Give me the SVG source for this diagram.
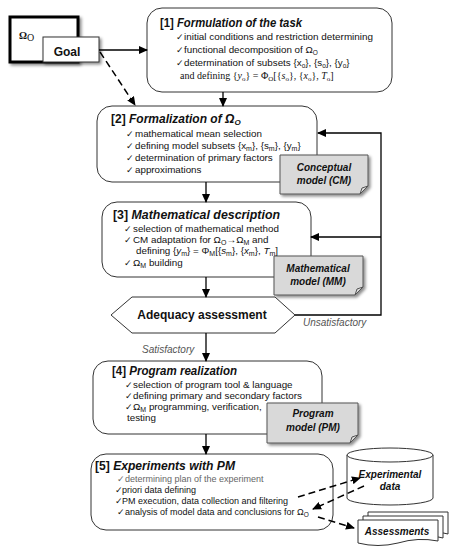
<svg xmlns="http://www.w3.org/2000/svg" width="455" height="550" viewBox="0 0 455 550">
<defs>
<marker id="ah" markerUnits="userSpaceOnUse" markerWidth="9" markerHeight="8" refX="8" refY="4" orient="auto">
<path d="M0,0 L9,4 L0,8 Z" fill="#000"/>
</marker>
<filter id="sh" x="-20%" y="-20%" width="150%" height="150%">
<feDropShadow dx="2" dy="2" stdDeviation="1.5" flood-color="#000" flood-opacity="0.45"/>
</filter>
</defs>
<style>
.box{fill:#fff;stroke:#333;stroke-width:1}
.doc{fill:#d9d9d9;stroke:#555;stroke-width:1}
.t{font-family:"Liberation Sans",Arial,sans-serif;font-size:9.8px;fill:#111}
.t5{font-family:"Liberation Sans",Arial,sans-serif;font-size:9px;fill:#111}
.ti{font-family:"Liberation Sans",Arial,sans-serif;font-size:12px;font-weight:bold;fill:#111}
.bi{font-family:"Liberation Sans",Arial,sans-serif;font-size:10px;font-weight:bold;font-style:italic;fill:#111}
.ck{font-family:"DejaVu Sans",sans-serif;font-size:9px;fill:#111}
.sr{font-family:"Liberation Serif","Times New Roman",serif;font-size:10px;fill:#111}
.lab{font-family:"Liberation Sans",Arial,sans-serif;font-size:10px;font-style:italic;fill:#555}
.ln{stroke:#000;stroke-width:1.3;fill:none}
.dl{stroke:#000;stroke-width:1.5;fill:none;stroke-dasharray:7,4}
</style>

<g id="omega">
<rect x="10" y="17" width="68" height="45" fill="#fff" stroke="#000" stroke-width="3" filter="url(#sh)"/>
<text x="19" y="39" class="sr" font-size="17" font-weight="bold">Ω<tspan font-size="10" font-weight="normal" dy="2">O</tspan></text>
</g>
<g id="goal">
<rect x="43" y="37" width="56" height="25" fill="#fff" stroke="#333" stroke-width="1" filter="url(#sh)"/>
<text x="67" y="56" class="ti" font-size="11" text-anchor="middle">Goal</text>
</g>

<g id="box1">
<rect class="box" x="147" y="8" width="245" height="84" rx="15"/>
<text x="160" y="27" class="ti" textLength="142" lengthAdjust="spacingAndGlyphs">[1] <tspan font-style="italic">Formulation of the task</tspan></text>
<text x="176" y="40" class="ck">✓</text>
<text x="184" y="40" class="t" font-size="9.3" textLength="189" lengthAdjust="spacingAndGlyphs">initial conditions and restriction determining</text>
<text x="176" y="53" class="ck">✓</text>
<text x="184" y="53" class="t" font-size="9.3">functional decomposition of Ω<tspan font-size="6.5" dy="2">O</tspan></text>
<text x="176" y="66" class="ck">✓</text>
<text x="184" y="66" class="t" font-size="9.3">determination of subsets {x<tspan font-size="6.5" dy="2">o</tspan><tspan dy="-2">}, {s</tspan><tspan font-size="6.5" dy="2">o</tspan><tspan dy="-2">}, {y</tspan><tspan font-size="6.5" dy="2">o</tspan><tspan dy="-2">}</tspan></text>
<text x="180" y="79" class="sr">and defining {<tspan font-style="italic">y</tspan><tspan font-size="7" dy="2">o</tspan><tspan dy="-2">} = Φ</tspan><tspan font-size="7" dy="2">O</tspan><tspan dy="-2">[{</tspan><tspan font-style="italic">s</tspan><tspan font-size="7" dy="2">o</tspan><tspan dy="-2">}, {</tspan><tspan font-style="italic">x</tspan><tspan font-size="7" dy="2">o</tspan><tspan dy="-2">}, </tspan><tspan font-style="italic">T</tspan><tspan font-size="7" dy="2">o</tspan><tspan dy="-2">]</tspan></text>
</g>

<g id="box2">
<rect class="box" x="97" y="106" width="220" height="76" rx="15"/>
<text x="111" y="123" class="ti" font-size="11.5">[2] <tspan font-style="italic">Formalization of Ω</tspan><tspan font-style="italic" font-size="8" dy="1.5">O</tspan></text>
<text x="126" y="137" class="ck">✓</text>
<text x="135" y="137" class="t">mathematical mean selection</text>
<text x="126" y="149" class="ck">✓</text>
<text x="135" y="149" class="t">defining model subsets {x<tspan font-size="7" dy="2">m</tspan><tspan dy="-2">}, {s</tspan><tspan font-size="7" dy="2">m</tspan><tspan dy="-2">}, {y</tspan><tspan font-size="7" dy="2">m</tspan><tspan dy="-2">}</tspan></text>
<text x="126" y="161" class="ck">✓</text>
<text x="135" y="161" class="t">determination of primary factors</text>
<text x="126" y="173" class="ck">✓</text>
<text x="135" y="173" class="t">approximations</text>
</g>

<g id="cm">
<path class="doc" filter="url(#sh)" d="M280,155 H368 V186 L360,194 H280 Z"/>
<path d="M360,194 L362,188 L368,186" fill="none" stroke="#555" stroke-width="1"/>
<text x="324" y="171" class="bi" text-anchor="middle">Conceptual</text>
<text x="324" y="184" class="bi" text-anchor="middle">model (CM)</text>
</g>

<g id="box3">
<rect class="box" x="102" y="202" width="209" height="75" rx="15"/>
<text x="113" y="219" class="ti" font-size="13.5" textLength="167" lengthAdjust="spacingAndGlyphs">[3] <tspan font-style="italic">Mathematical description</tspan></text>
<text x="124" y="232" class="ck">✓</text>
<text x="133" y="232" class="t">selection of mathematical method</text>
<text x="124" y="243" class="ck">✓</text>
<text x="133" y="243" class="t">CM adaptation for Ω<tspan font-size="7" dy="2">O</tspan><tspan dy="-2">→Ω</tspan><tspan font-size="7" dy="2">M</tspan><tspan dy="-2"> and</tspan></text>
<text x="136" y="254" class="t">defining {<tspan font-style="italic">y</tspan><tspan font-size="7" dy="2">m</tspan><tspan dy="-2">} = Φ</tspan><tspan font-size="7" dy="2">M</tspan><tspan dy="-2">[{</tspan><tspan font-style="italic">s</tspan><tspan font-size="7" dy="2">m</tspan><tspan dy="-2">}, {</tspan><tspan font-style="italic">x</tspan><tspan font-size="7" dy="2">m</tspan><tspan dy="-2">}, </tspan><tspan font-style="italic">T</tspan><tspan font-size="7" dy="2">m</tspan><tspan dy="-2">]</tspan></text>
<text x="124" y="266" class="ck">✓</text>
<text x="133" y="266" class="t">Ω<tspan font-size="7" dy="2">M</tspan><tspan dy="-2"> building</tspan></text>
</g>

<g id="mm">
<path class="doc" filter="url(#sh)" d="M274,256 H363 V287 L355,295 H274 Z"/>
<path d="M355,295 L357,289 L363,287" fill="none" stroke="#555" stroke-width="1"/>
<text x="318" y="272" class="bi" text-anchor="middle">Mathematical</text>
<text x="318" y="285" class="bi" text-anchor="middle">model (MM)</text>
</g>

<g id="adequacy">
<polygon points="111,315 132,297 275,297 295,315 275,333 132,333" fill="#fff" stroke="#333" stroke-width="1"/>
<text x="202" y="318.5" class="ti" font-size="9.5" text-anchor="middle">Adequacy assessment</text>
</g>

<g id="box4">
<rect class="box" x="93" y="361" width="229" height="73" rx="15"/>
<text x="112" y="375" class="ti" textLength="125" lengthAdjust="spacingAndGlyphs">[4] <tspan font-style="italic">Program realization</tspan></text>
<text x="125" y="388" class="ck">✓</text>
<text x="133" y="388" class="t">selection of program tool &amp; language</text>
<text x="125" y="399" class="ck">✓</text>
<text x="133" y="399" class="t">defining primary and secondary factors</text>
<text x="125" y="410" class="ck">✓</text>
<text x="133" y="410" class="t">Ω<tspan font-size="7" dy="2">M</tspan><tspan dy="-2"> programming, verification,</tspan></text>
<text x="127" y="421" class="t">testing</text>
</g>

<g id="pm">
<path class="doc" filter="url(#sh)" d="M267,403 H358 V435 L350,443 H267 Z"/>
<path d="M350,443 L352,437 L358,435" fill="none" stroke="#555" stroke-width="1"/>
<text x="313" y="417" class="bi" text-anchor="middle">Program</text>
<text x="313" y="431" class="bi" text-anchor="middle">model (PM)</text>
</g>

<g id="box5">
<rect class="box" x="91" y="454" width="242" height="76" rx="15"/>
<text x="95" y="470" class="ti" textLength="140" lengthAdjust="spacingAndGlyphs">[5] <tspan font-style="italic">Experiments with PM</tspan></text>
<text x="117" y="482" class="ck" style="fill:#666">✓</text>
<text x="125" y="482" class="t5" style="fill:#666">determining plan of the experiment</text>
<text x="115" y="493" class="ck">✓</text>
<text x="122" y="493" class="t5">priori data defining</text>
<text x="115" y="504" class="ck">✓</text>
<text x="122" y="504" class="t5">PM execution, data collection and filtering</text>
<text x="117" y="515" class="ck">✓</text>
<text x="125" y="515" class="t5">analysis of model data and conclusions for Ω<tspan font-size="6.5" dy="2">O</tspan></text>
</g>

<g id="expdata">
<path d="M347,455 V498 A43,7 0 0 0 433,498 V455" fill="#fff" stroke="#333" stroke-width="1"/>
<ellipse cx="390" cy="455" rx="43" ry="7" fill="#fff" stroke="#333" stroke-width="1"/>
<text x="390" y="478" class="bi" text-anchor="middle">Experimental</text>
<text x="390" y="490" class="bi" text-anchor="middle">data</text>
</g>

<g id="assessments">
<path d="M368,512 H448 V534 Q438,531 428,535 H368 Z" fill="#fff" stroke="#333" stroke-width="1"/>
<path d="M363,516 H443 V538 Q433,535 423,539 H363 Z" fill="#fff" stroke="#333" stroke-width="1"/>
<path d="M358,520 H438 V541 Q418,537 398,543 Q378,548 358,543 Z" fill="#fff" stroke="#333" stroke-width="1"/>
<text x="397" y="535" class="bi" text-anchor="middle">Assessments</text>
</g>

<g id="connectors">
<line class="ln" x1="99" y1="50" x2="147" y2="50" marker-end="url(#ah)"/>
<line class="dl" x1="100" y1="52" x2="135" y2="105" marker-end="url(#ah)"/>
<line class="ln" x1="223" y1="92" x2="223" y2="106" marker-end="url(#ah)"/>
<line class="ln" x1="206" y1="182" x2="206" y2="202" marker-end="url(#ah)"/>
<line class="ln" x1="206" y1="277" x2="206" y2="297" marker-end="url(#ah)"/>
<line class="ln" x1="206" y1="333" x2="206" y2="361" marker-end="url(#ah)"/>
<line class="ln" x1="206" y1="434" x2="206" y2="454" marker-end="url(#ah)"/>
<polyline class="ln" points="295,315 381,315 381,133 318,133" marker-end="url(#ah)"/>
<line class="ln" x1="381" y1="237" x2="311" y2="237" marker-end="url(#ah)"/>
<line class="dl" x1="298" y1="497" x2="360" y2="478" marker-end="url(#ah)"/>
<line class="dl" x1="364" y1="486" x2="313" y2="509" marker-end="url(#ah)"/>
<line class="dl" x1="318" y1="517" x2="354" y2="528" marker-end="url(#ah)"/>
<text x="303" y="326" class="lab">Unsatisfactory</text>
<text x="142" y="353" class="lab">Satisfactory</text>
</g>
</svg>
